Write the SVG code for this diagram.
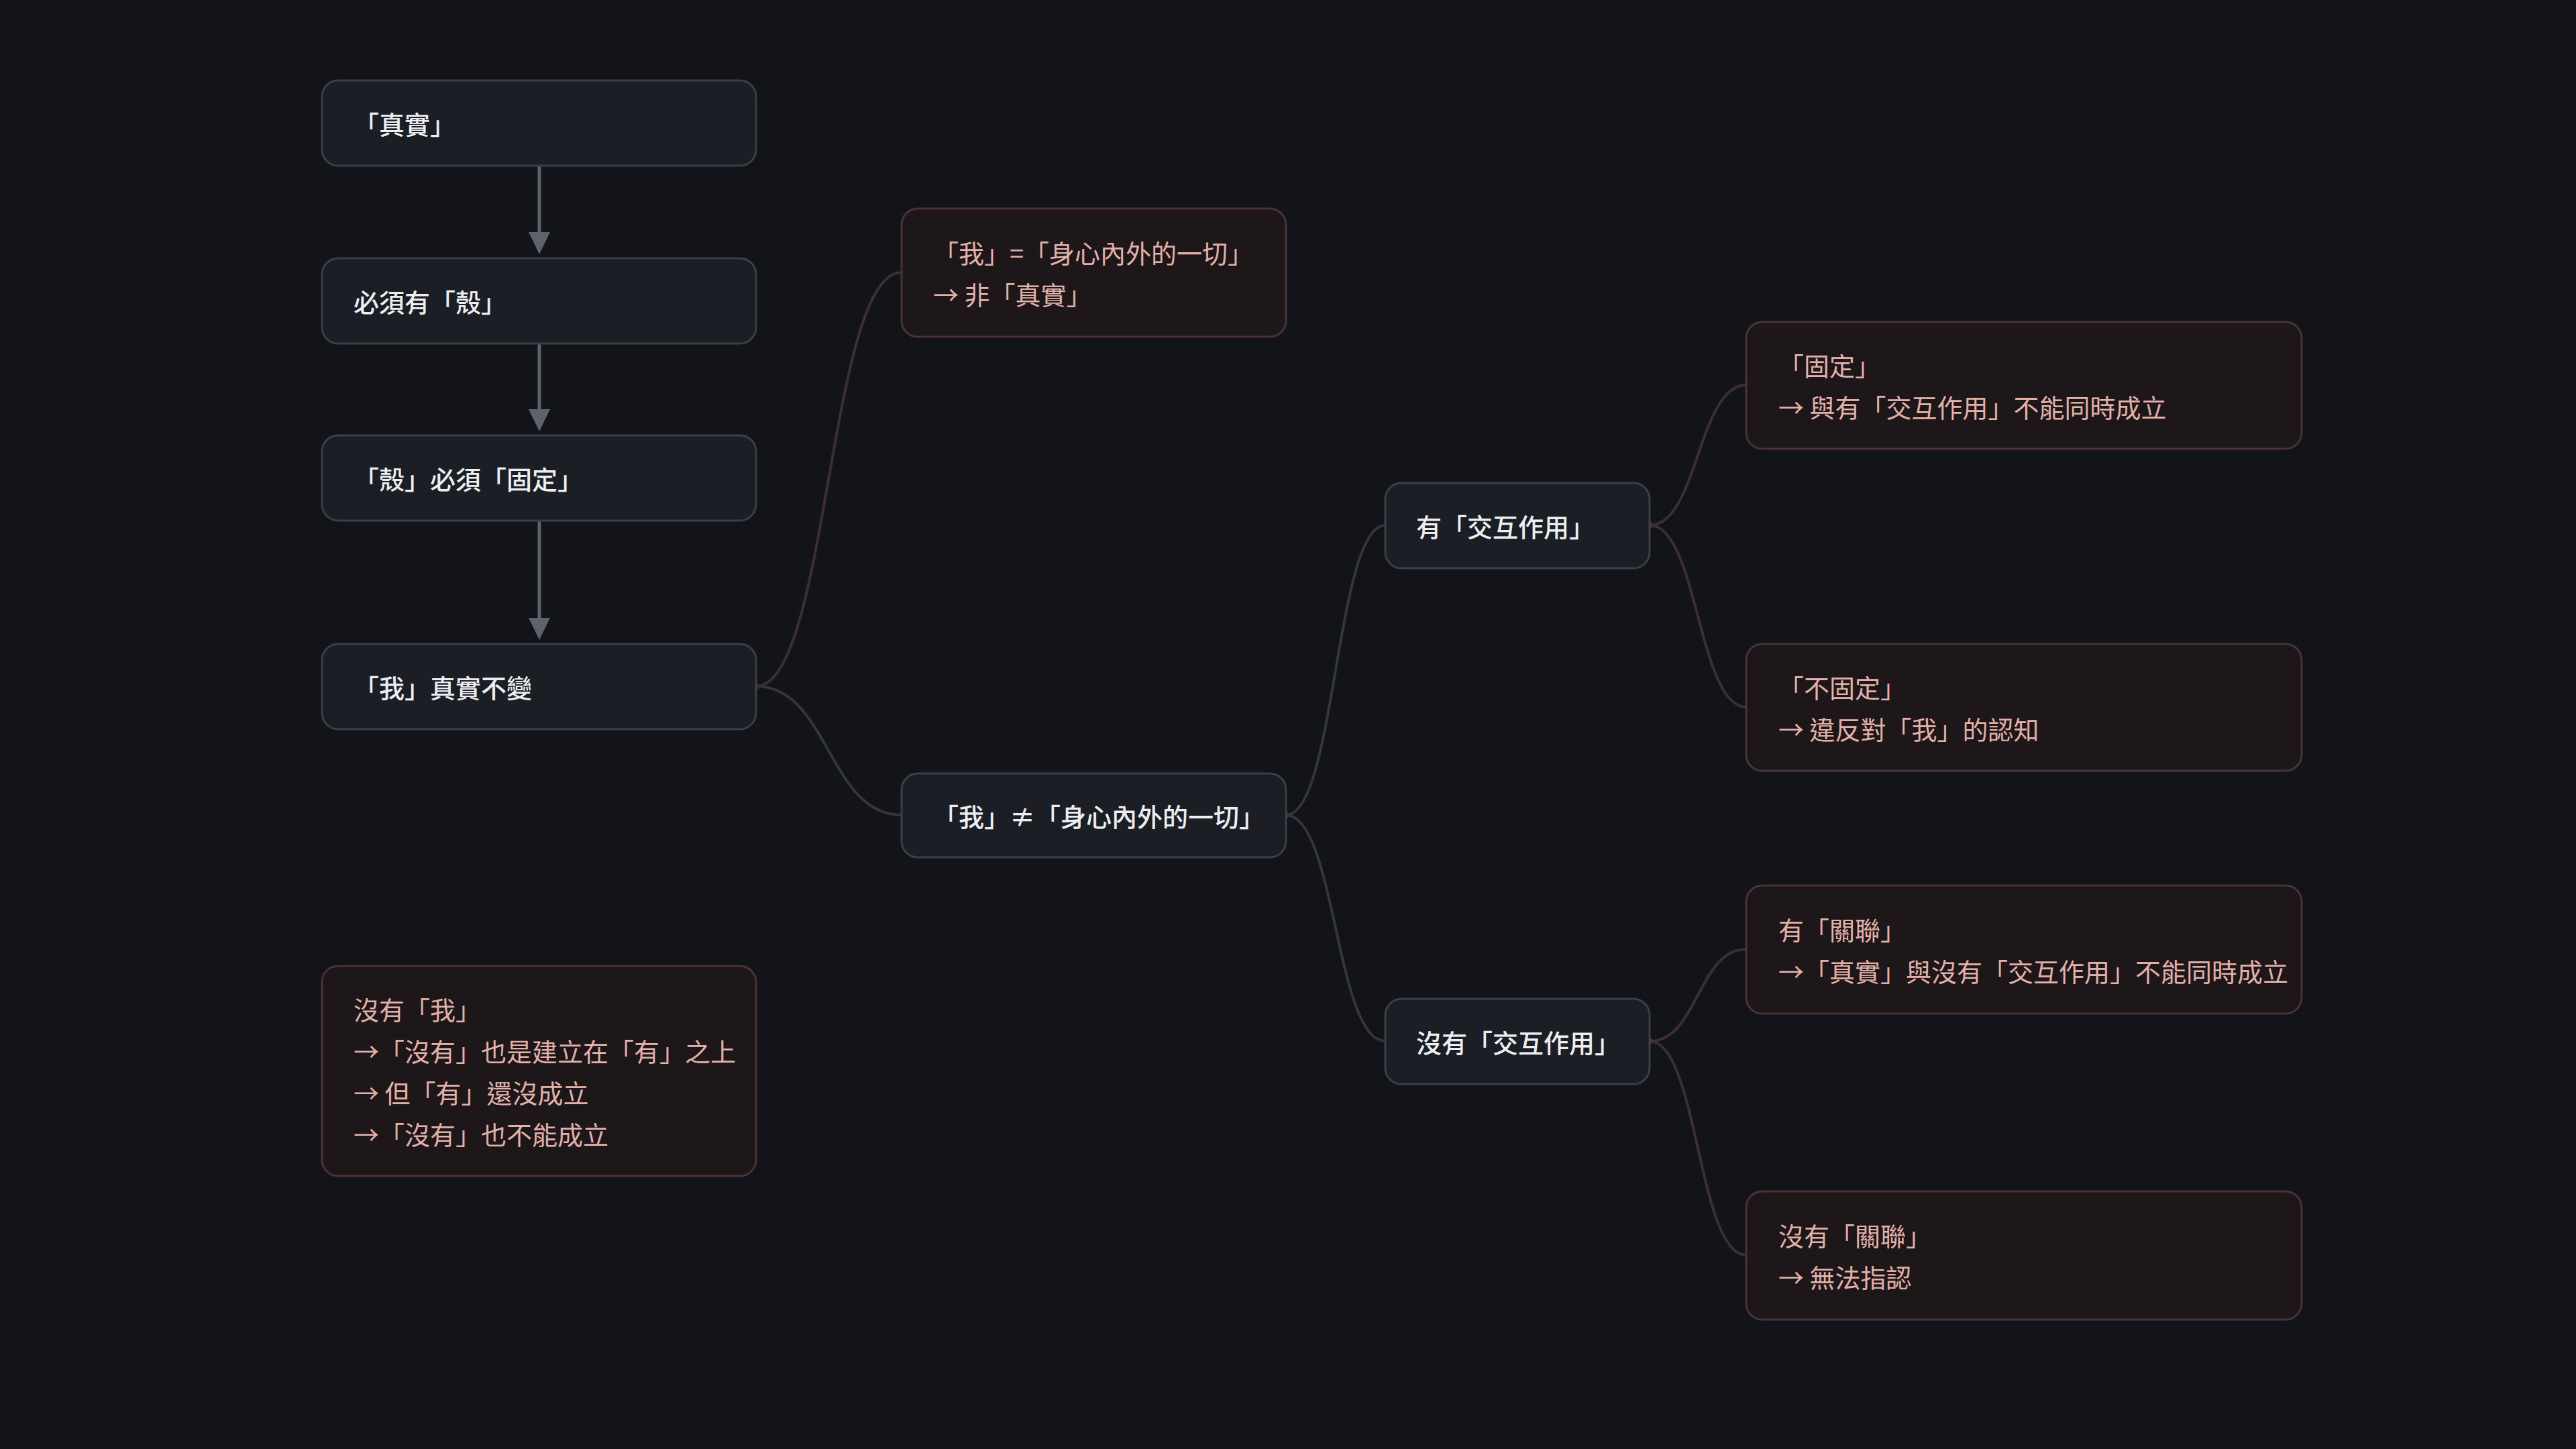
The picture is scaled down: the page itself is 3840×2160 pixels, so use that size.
<svg xmlns="http://www.w3.org/2000/svg" width="3840" height="2160" viewBox="0 0 3840 2160">
<defs>
<style>
.n rect{fill:#1b1e24;stroke:#3b3f47;stroke-width:3}
.r rect{fill:#1d171a;stroke:#4a3337;stroke-width:3}
text{font-family:"Noto Sans CJK TC","Noto Sans CJK SC",sans-serif;font-size:38px;dominant-baseline:central}
.n text{fill:#eceef2;font-weight:500}
.r text{fill:#e3b1a9}
.cg{fill:none;stroke:#33363c;stroke-width:4}
.cr{fill:none;stroke:#3d2f31;stroke-width:4}
.ar{stroke:#5d626b;stroke-width:5;fill:none}
.ah{fill:#5d626b}
</style>
</defs>
<rect width="3840" height="2160" fill="#131419"/>
<g id="connectors">
<path class="ar" d="M804 247 V346"/><path class="ah" d="M788 346 H820 L804 379 Z"/>
<path class="ar" d="M804 512 V610"/><path class="ah" d="M788 610 H820 L804 643 Z"/>
<path class="ar" d="M804 776 V921"/><path class="ah" d="M788 921 H820 L804 954 Z"/>
<path class="cr" d="M1127 1023 C1235 1023 1235 406 1344 406"/>
<path class="cg" d="M1127 1023 C1235 1023 1235 1215 1344 1215"/>
<path class="cg" d="M1917 1215 C1991 1215 1991 783 2065 783"/>
<path class="cg" d="M1917 1215 C1991 1215 1991 1552 2065 1552"/>
<path class="cr" d="M2459 783 C2531 783 2531 574 2603 574"/>
<path class="cr" d="M2459 783 C2531 783 2531 1054 2603 1054"/>
<path class="cr" d="M2459 1552 C2531 1552 2531 1415 2603 1415"/>
<path class="cr" d="M2459 1552 C2531 1552 2531 1871 2603 1871"/>
<circle cx="1127" cy="1023" r="5" fill="#3d2f31"/>
<circle cx="1917" cy="1215" r="5" fill="#33363c"/>
<circle cx="2459" cy="783" r="5" fill="#4a3337"/>
<circle cx="2459" cy="1552" r="5" fill="#4a3337"/>
</g>
<g id="n1" class="n"><rect x="480" y="120" width="647" height="127" rx="24"/><text x="527" y="183">「真實」</text></g>
<g id="n2" class="n"><rect x="480" y="385" width="647" height="127" rx="24"/><text x="527" y="448">必須有「殼」</text></g>
<g id="n3" class="n"><rect x="480" y="649" width="647" height="127" rx="24"/><text x="527" y="712">「殼」必須「固定」</text></g>
<g id="n4" class="n"><rect x="480" y="960" width="647" height="127" rx="24"/><text x="527" y="1023">「我」真實不變</text></g>
<g id="n5" class="r"><rect x="480" y="1440" width="647" height="313" rx="24"/>
<text x="527" y="1503">沒有「我」</text><text x="527" y="1565">→「沒有」也是建立在「有」之上</text><text x="527" y="1627">→ 但「有」還沒成立</text><text x="527" y="1689">→「沒有」也不能成立</text></g>
<g id="n6" class="r"><rect x="1344" y="311" width="573" height="191" rx="24"/><text x="1391" y="375">「我」=「身心內外的一切」</text><text x="1391" y="437">→ 非「真實」</text></g>
<g id="n7" class="n"><rect x="1344" y="1153" width="573" height="125" rx="24"/><text x="1391" y="1215">「我」≠「身心內外的一切」</text></g>
<g id="n8" class="n"><rect x="2065" y="720" width="394" height="127" rx="24"/><text x="2111" y="783">有「交互作用」</text></g>
<g id="n9" class="n"><rect x="2065" y="1489" width="394" height="127" rx="24"/><text x="2111" y="1552">沒有「交互作用」</text></g>
<g id="n10" class="r"><rect x="2603" y="480" width="828" height="189" rx="24"/><text x="2651" y="543">「固定」</text><text x="2651" y="605">→ 與有「交互作用」不能同時成立</text></g>
<g id="n11" class="r"><rect x="2603" y="960" width="828" height="189" rx="24"/><text x="2651" y="1023">「不固定」</text><text x="2651" y="1085">→ 違反對「我」的認知</text></g>
<g id="n12" class="r"><rect x="2603" y="1320" width="828" height="191" rx="24"/><text x="2651" y="1384">有「關聯」</text><text x="2651" y="1446">→「真實」與沒有「交互作用」不能同時成立</text></g>
<g id="n13" class="r"><rect x="2603" y="1776" width="828" height="191" rx="24"/><text x="2651" y="1840">沒有「關聯」</text><text x="2651" y="1902">→ 無法指認</text></g>
</svg>
